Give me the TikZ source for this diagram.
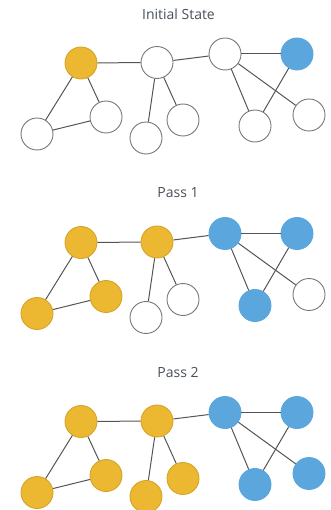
\documentclass[tikz,border=0pt]{standalone}
\usepackage{fontspec}
\setmainfont{Open Sans}
\definecolor{orng}{RGB}{236,184,50}
\definecolor{orngb}{RGB}{214,164,40}
\definecolor{blu}{RGB}{90,166,221}
\definecolor{edg}{RGB}{85,85,85}
\definecolor{ttl}{RGB}{72,80,90}
\definecolor{wb}{RGB}{120,120,120}
\begin{document}
\begin{tikzpicture}[x=1pt,y=-1pt,
  vtx/.style={circle,minimum size=32pt,inner sep=0pt,line width=0.9pt},
  wv/.style={vtx,draw=wb,fill=white},
  ov/.style={vtx,draw=orngb,fill=orng},
  bv/.style={vtx,draw=blu,fill=blu},
  ed/.style={draw=edg,line width=1pt},
  ttlsty/.style={font=\fontsize{14}{16}\selectfont,text=ttl}]
\useasboundingbox (0,0) rectangle (331,510);
% ---- Initial State ----
\node[ttlsty] (t0) at (178.5,14) {Initial State};
\node[ov] (a0) at (81,63) {};
\node[wv] (b0) at (157,62.5) {};
\node[wv] (c0) at (225,54) {};
\node[bv] (d0) at (297,54) {};
\node[wv] (e0) at (37,134) {};
\node[wv] (f0) at (106,117) {};
\node[wv] (g0) at (146,138) {};
\node[wv] (h0) at (183,120) {};
\node[wv] (i0) at (255,126) {};
\node[wv] (j0) at (309,115) {};
% ---- Pass 1 ----
\node[ttlsty] (t1) at (178,193) {Pass 1};
\node[ov] (a1) at (81,242.5) {};
\node[ov] (b1) at (157,242) {};
\node[bv] (c1) at (225,233.5) {};
\node[bv] (d1) at (297,233.5) {};
\node[ov] (e1) at (37,313.5) {};
\node[ov] (f1) at (106,296.5) {};
\node[wv] (g1) at (146,317.5) {};
\node[wv] (h1) at (183,299.5) {};
\node[bv] (i1) at (255,305.5) {};
\node[wv] (j1) at (309,294.5) {};
% ---- Pass 2 ----
\node[ttlsty] (t2) at (178,372) {Pass 2};
\node[ov] (a2) at (81,421.5) {};
\node[ov] (b2) at (157,421) {};
\node[bv] (c2) at (225,412.5) {};
\node[bv] (d2) at (297,412.5) {};
\node[ov] (e2) at (37,492.5) {};
\node[ov] (f2) at (106,475.5) {};
\node[ov] (g2) at (146,496.5) {};
\node[ov] (h2) at (183,478.5) {};
\node[bv] (i2) at (255,484.5) {};
\node[bv] (j2) at (309,473.5) {};
\foreach \k in {0,1,2}{
  \draw[ed] (a\k) -- (b\k);
  \draw[ed] (b\k) -- (c\k);
  \draw[ed] (c\k) -- (d\k);
  \draw[ed] (a\k) -- (e\k);
  \draw[ed] (a\k) -- (f\k);
  \draw[ed] (e\k) -- (f\k);
  \draw[ed] (b\k) -- (g\k);
  \draw[ed] (b\k) -- (h\k);
  \draw[ed] (c\k) -- (i\k);
  \draw[ed] (c\k) -- (j\k);
  \draw[ed] (d\k) -- (i\k);
}
\end{tikzpicture}
\end{document}
